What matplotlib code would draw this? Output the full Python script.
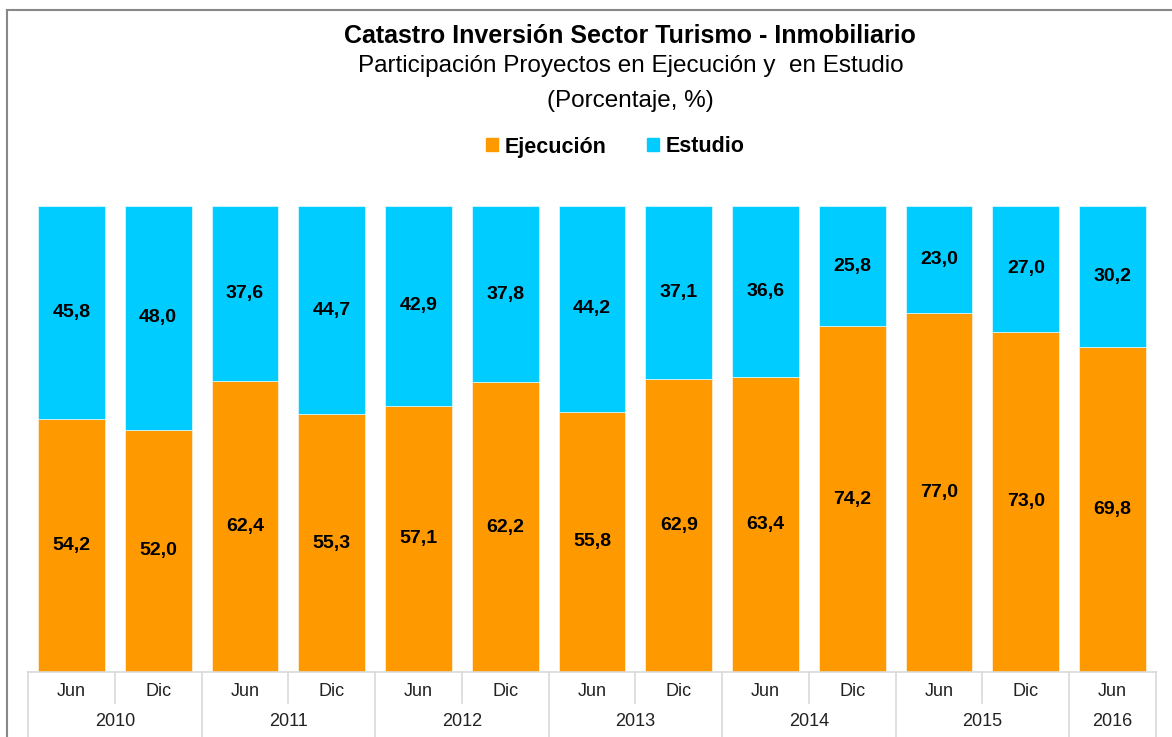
import matplotlib
matplotlib.use("Agg")
import matplotlib.pyplot as plt
from matplotlib.lines import Line2D
from matplotlib.patches import Patch
import numpy as np

# data
periods = ["Jun", "Dic", "Jun", "Dic", "Jun", "Dic", "Jun", "Dic", "Jun", "Dic", "Jun", "Dic", "Jun"]
years = ["2010", "2011", "2012", "2013", "2014", "2015", "2016"]
year_sizes = [2, 2, 2, 2, 2, 2, 1]
ejecucion = [54.2, 52.0, 62.4, 55.3, 57.1, 62.2, 55.8, 62.9, 63.4, 74.2, 77.0, 73.0, 69.8]
estudio = [45.8, 48.0, 37.6, 44.7, 42.9, 37.8, 44.2, 37.1, 36.6, 25.8, 23.0, 27.0, 30.2]

ORANGE = "#FF9900"
CYAN = "#00CCFF"
GRID = "#D9D9D9"
W, H = 1172, 737

plt.rcParams["font.family"] = ["Liberation Sans", "DejaVu Sans"]

fig = plt.figure(figsize=(W / 100, H / 100), dpi=100)
ax = fig.add_axes([28 / W, (H - 672) / H, (1156 - 28) / W, (672 - 206) / H])

x = np.arange(len(periods))
ax.bar(x, ejecucion, width=0.77, color=ORANGE, edgecolor="white", linewidth=0.4)
ax.bar(x, estudio, width=0.77, bottom=ejecucion, color=CYAN, edgecolor="white", linewidth=0.4)

def fmt(v):
    return f"{v:.1f}".replace(".", ",")

for xi, e, s in zip(x, ejecucion, estudio):
    ax.text(xi, e / 2, fmt(e), ha="center", va="center", fontsize=14, fontweight="bold")
    ax.text(xi, e + s / 2, fmt(s), ha="center", va="center", fontsize=14, fontweight="bold")

ax.set_xlim(-0.5, len(periods) - 0.5)
ax.set_ylim(0, 100)
for sp in ax.spines.values():
    sp.set_visible(False)
ax.set_xticks([])
ax.set_yticks([])

# two-level category axis
trans = ax.get_xaxis_transform()
ax.plot([-0.5, len(periods) - 0.5], [0, 0], color=GRID, lw=1.2, transform=trans, clip_on=False)
py = -20 / (672 - 206)
yy = -50 / (672 - 206)
for xi, p in zip(x, periods):
    ax.text(xi, py, p, ha="center", va="center", fontsize=13, color="#222222", transform=trans)
start = -0.5
bounds = [start]
for yr, n in zip(years, year_sizes):
    ax.text(start + n / 2, yy, yr, ha="center", va="center", fontsize=13, color="#222222", transform=trans)
    start += n
    bounds.append(start)
bottom_full = -(H - 672) / (672 - 206)
for b in bounds:
    ax.plot([b, b], [0, bottom_full], color=GRID, lw=1.2, transform=trans, clip_on=False)
for b in bounds[:-1]:
    if b + 1 < len(periods) - 0.5 and (b + 1) not in bounds:
        ax.plot([b + 1, b + 1], [0, -31 / (672 - 206)], color=GRID, lw=1.2, transform=trans, clip_on=False)

# titles
fig.text(630 / W, 1 - 36 / H, "Catastro Inversión Sector Turismo - Inmobiliario",
         ha="center", va="center", fontsize=18, fontweight="bold")
fig.text(631 / W, 1 - 66 / H, "Participación Proyectos en Ejecución y  en Estudio",
         ha="center", va="center", fontsize=17.5)
fig.text(630 / W, 1 - 101 / H, "(Porcentaje, %)", ha="center", va="center", fontsize=17.5)

handles = [Patch(color=ORANGE, label="Ejecución"), Patch(color=CYAN, label="Estudio")]
fig.legend(handles=handles, loc="center", bbox_to_anchor=(615 / W, 1 - 147 / H), ncol=2,
           frameon=False, handlelength=0.55, handleheight=0.55, handletextpad=0.3,
           columnspacing=1.9, prop={"weight": "bold", "size": 15.5})

# chart frame (left and top edges visible)
fig.add_artist(Line2D([7 / W, 7 / W], [0, 1 - 10 / H], color="#888888", lw=1.5))
fig.add_artist(Line2D([7 / W, 1], [1 - 10 / H, 1 - 10 / H], color="#888888", lw=1.5))

fig.savefig("out.png", dpi=100)
